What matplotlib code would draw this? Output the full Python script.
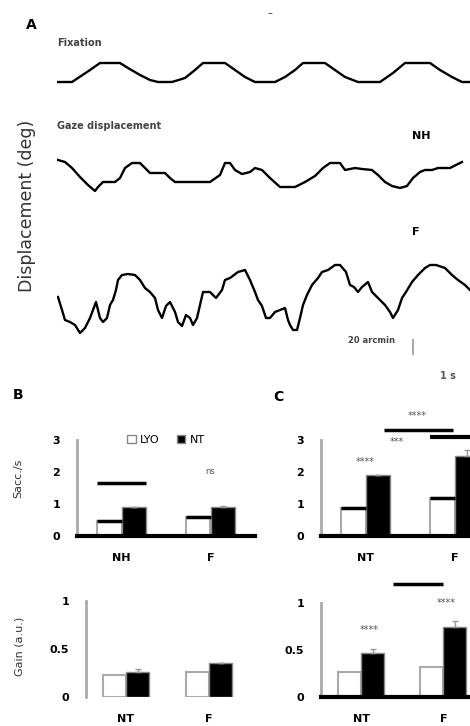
import matplotlib
matplotlib.use("Agg")
import matplotlib.pyplot as plt
from matplotlib.patches import Patch

# ---- data ----
# panel A traces: time (s) and displacement (deg)
t_fix = [0, 0.15, 0.33, 0.43, 0.53, 0.63, 0.71, 0.83, 0.93, 1.01, 1.15, 1.28, 1.38, 1.46, 1.56,
         1.68, 1.78, 1.88, 1.98, 2.18, 2.28, 2.38, 2.46, 2.56, 2.68, 2.78, 2.88, 3.01, 3.23,
         3.36, 3.48, 3.58, 3.73, 3.83, 3.95, 4.05, 4.13]
d_fix = [0, 0, 1.2, 1.9, 1.9, 1.9, 1.4, 0.7, 0.2, 0, 0, 0.4, 1.2, 1.9, 1.9,
         1.9, 1.2, 0.5, 0, 0, 0.5, 1.2, 1.9, 1.9, 1.9, 1.2, 0.5, 0, 0,
         0.9, 1.9, 1.9, 1.9, 1.2, 0.5, 0, 0]

t_nh = [0.01, 0.08, 0.15, 0.23, 0.31, 0.38, 0.41, 0.46, 0.58, 0.63, 0.68, 0.75, 0.83, 0.88,
        0.93, 1.08, 1.13, 1.18, 1.53, 1.63, 1.68, 1.73, 1.78, 1.85, 1.93, 1.98, 2.05, 2.13,
        2.23, 2.38, 2.48, 2.58, 2.66, 2.73, 2.83, 2.88, 2.98, 3.05, 3.15, 3.21, 3.28, 3.35,
        3.43, 3.50, 3.56, 3.63, 3.68, 3.75, 3.81, 3.93, 4.01, 4.05]
d_nh = [3.1, 2.9, 2.3, 1.4, 0.6, 0, 0.4, 0.9, 0.9, 1.3, 2.3, 2.8, 2.8, 2.3,
        1.8, 1.8, 1.3, 0.9, 0.9, 1.6, 2.8, 2.8, 2.1, 1.7, 1.9, 2.3, 2.1, 1.3,
        0.4, 0.4, 0.9, 1.5, 2.3, 2.8, 2.8, 2.1, 2.3, 2.2, 2.1, 1.6, 0.9, 0.5,
        0.3, 0.5, 1.3, 1.9, 2.1, 2.1, 2.3, 2.3, 2.7, 2.9]

t_f = [0.01, 0.05, 0.08, 0.13, 0.18, 0.23, 0.28, 0.33, 0.36, 0.39, 0.41, 0.43, 0.46, 0.50,
       0.53, 0.56, 0.59, 0.61, 0.65, 0.71, 0.78, 0.83, 0.88, 0.93, 0.98, 1.01, 1.05, 1.09,
       1.13, 1.18, 1.21, 1.25, 1.29, 1.33, 1.36, 1.40, 1.43, 1.46, 1.53, 1.59, 1.65, 1.68,
       1.73, 1.81, 1.88, 1.93, 1.98, 2.01, 2.05, 2.09, 2.13, 2.18, 2.28, 2.31, 2.33, 2.36,
       2.40, 2.43, 2.46, 2.50, 2.55, 2.61, 2.65, 2.71, 2.78, 2.83, 2.89, 2.93, 2.97, 3.01,
       3.05, 3.11, 3.15, 3.21, 3.28, 3.33, 3.36, 3.41, 3.45, 3.49, 3.55, 3.61, 3.68, 3.73,
       3.79, 3.88, 3.95, 4.01, 4.08, 4.13]
d_f = [3.6, 2.3, 1.3, 1.1, 0.8, 0, 0.5, 1.5, 2.3, 3.1, 2.3, 1.5, 1.1, 1.5,
       2.8, 3.3, 4.3, 5.3, 5.8, 5.9, 5.8, 5.3, 4.5, 4.1, 3.5, 2.3, 1.5, 2.7,
       3.1, 2.1, 1.1, 0.7, 1.8, 1.5, 0.8, 1.5, 2.8, 4.1, 4.1, 3.5, 4.3, 5.3,
       5.5, 6.1, 6.3, 5.3, 4.1, 3.3, 2.7, 1.5, 1.5, 2.1, 2.5, 1.3, 0.8, 0.3,
       0.3, 1.5, 2.8, 3.8, 4.8, 5.5, 6.1, 6.3, 6.8, 6.8, 6.1, 4.8, 4.6, 4.1,
       4.6, 5.1, 4.1, 3.5, 2.8, 2.1, 1.5, 2.3, 3.5, 4.1, 5.1, 5.8, 6.5, 6.8,
       6.8, 6.5, 5.8, 5.3, 4.8, 4.3]

# panel B (top): rate
b_groups = ["NH", "F"]
b_top_white = [0.47, 0.6]
b_top_black = [0.9, 0.9]
b_top_black_err = [0.0, 0.05]

# panel C (top)
c_groups = ["NT", "F"]
c_top_white = [0.87, 1.2]
c_top_black = [1.9, 2.5]
c_top_black_err = [0.0, 0.2]

# panel B (bottom): gain
b_bot_groups = ["NT", "F"]
b_bot_white = [0.23, 0.26]
b_bot_black = [0.26, 0.35]
b_bot_black_err = [0.03, 0.0]

# panel C (bottom)
c_bot_white = [0.27, 0.32]
c_bot_black = [0.47, 0.75]
c_bot_black_err = [0.04, 0.06]

W, H = 470, 726
fig = plt.figure(figsize=(W / 100, H / 100), dpi=100)
plt.rcParams["font.family"] = "DejaVu Sans"


def px_axes(left, top, right, bottom):
    return fig.add_axes([left / W, 1 - bottom / H, (right - left) / W, (bottom - top) / H])


def ftext(x, y, s, **kw):
    fig.text(x / W, 1 - y / H, s, **kw)


# ---- panel A ----
trace_boxes = [(58, 87, 1.9), (155, 196, 3.1), (260, 338, 6.8)]
for (top, bottom, dmax), (t, d) in zip(trace_boxes, [(t_fix, d_fix), (t_nh, d_nh), (t_f, d_f)]):
    ax = px_axes(57, top, 470, bottom)
    ax.plot(t, d, color="black", lw=1.7)
    ax.set_xlim(0, 4.13)
    ax.set_ylim(-0.5, dmax + 0.5)
    ax.axis("off")

ftext(31, 25, "A", fontsize=10, fontweight="bold", ha="center", va="center")
ftext(57, 43, "Fixation", fontsize=7, fontweight="bold", color="#444444", va="center")
ftext(57, 126, "Gaze displacement", fontsize=7, fontweight="bold", color="#444444", va="center")
ftext(412, 136, "NH", fontsize=8, fontweight="bold", va="center")
ftext(412, 232, "F", fontsize=8, fontweight="bold", va="center")
ftext(27, 206, "Displacement (deg)", fontsize=12.5, rotation=90, ha="center", va="center",
      color="#333333")
ftext(372, 340, "20 arcmin", fontsize=6, fontweight="bold", color="#444444",
      ha="center", va="center")
fig.add_artist(plt.Line2D([413 / W, 413 / W], [1 - 340 / H, 1 - 354 / H],
                          color="#aaaaaa", lw=1.5))
ftext(448, 376, "1 s", fontsize=7, fontweight="bold", color="#555555", ha="center", va="center")
ftext(270, 13, "–", fontsize=7, color="#333333", ha="center", va="center")

ftext(18, 395, "B", fontsize=10, fontweight="bold", ha="center", va="center")
ftext(278, 397, "C", fontsize=10, fontweight="bold", ha="center", va="center")
ftext(18, 478, "Sacc./s", fontsize=8, rotation=90, ha="center", va="center", color="#333333")
ftext(20, 646, "Gain (a.u.)", fontsize=8, rotation=90, ha="center", va="center",
      color="#333333")


def style(ax, baseline=True):
    for s in ["top", "right"]:
        ax.spines[s].set_visible(False)
    ax.spines["left"].set_color("#aaaaaa")
    ax.spines["left"].set_linewidth(2)
    if baseline:
        ax.spines["bottom"].set_color("black")
        ax.spines["bottom"].set_linewidth(3)
    else:
        ax.spines["bottom"].set_visible(False)
    ax.tick_params(length=0, labelsize=8, pad=12)
    for lab in ax.get_xticklabels() + ax.get_yticklabels():
        lab.set_fontweight("bold")
    ax.patch.set_alpha(0)


def bars(ax, white, black, black_err, labels, bw=0.28, top_line=False):
    x = list(range(len(white)))
    xw = [i - bw / 2 for i in x]
    xb = [i + bw / 2 for i in x]
    ax.bar(xw, white, bw, color="white", edgecolor="#aaaaaa", lw=1.5)
    ax.bar(xb, black, bw, color="black", edgecolor="#888888", lw=1)
    ax.errorbar(xb, black, yerr=[[0] * len(black), black_err], fmt="none",
                ecolor="#999999", capsize=2, lw=1)
    if top_line:
        ax.hlines(white, [v - bw / 2 for v in xw], [v + bw / 2 for v in xw],
                  color="black", lw=2.5)
    ax.set_xticks(x)
    ax.set_xticklabels(labels)


# B top
ax = px_axes(77, 440, 255, 536)
bars(ax, b_top_white, b_top_black, b_top_black_err, b_groups, top_line=True)
ax.set_xlim(-0.5, 1.5)
ax.set_ylim(0, 3)
ax.set_yticks([0, 1, 2, 3])
ax.hlines(1.65, -0.27, 0.28, color="black", lw=2.5)
ax.text(1.0, 2.0, "ns", fontsize=6, color="#555555", ha="center", va="center")
ax.legend(handles=[Patch(facecolor="white", edgecolor="#888888"),
                   Patch(facecolor="black", edgecolor="#888888")],
          labels=["LYO", "NT"], ncol=2, frameon=False, fontsize=8,
          loc="center", bbox_to_anchor=(0.5, 1.0), handlelength=0.8,
          handletextpad=0.4, columnspacing=1.5)
style(ax)

# C top
ax = px_axes(321, 440, 499, 536)
bars(ax, c_top_white, c_top_black, c_top_black_err, c_groups, top_line=True)
ax.set_xlim(-0.5, 1.5)
ax.set_ylim(0, 3)
ax.set_yticks([0, 1, 2, 3])
ax.text(0.0, 2.3, "****", fontsize=7, color="#555555", ha="center", va="center")
ax.text(0.35, 2.95, "***", fontsize=7, color="#555555", ha="center", va="center")
ax.hlines(3.3, 0.21, 0.98, color="black", lw=2.5, clip_on=False)
ax.hlines(3.1, 0.72, 1.2, color="black", lw=3, clip_on=False)
ax.text(0.58, 3.75, "****", fontsize=7, color="#555555", ha="center", va="center",
        clip_on=False)
style(ax)

# B bottom
ax = px_axes(86, 601, 259, 697)
bars(ax, b_bot_white, b_bot_black, b_bot_black_err, b_bot_groups)
ax.set_xlim(-0.48, 1.6)
ax.set_ylim(0, 1)
ax.set_yticks([0, 0.5, 1])
ax.set_yticklabels(["0", "0.5", "1"])
style(ax, baseline=False)

# C bottom
ax = px_axes(321, 603, 491, 697)
bars(ax, c_bot_white, c_bot_black, c_bot_black_err, c_groups)
ax.set_xlim(-0.49, 1.58)
ax.set_ylim(0, 1)
ax.set_yticks([0, 0.5, 1])
ax.set_yticklabels(["0", "0.5", "1"])
ax.text(0.1, 0.71, "****", fontsize=7, color="#555555", ha="center", va="center")
ax.text(1.03, 1.0, "****", fontsize=7, color="#555555", ha="center", va="center",
        clip_on=False)
ax.hlines(1.2, 0.39, 1.0, color="black", lw=2.5, clip_on=False)
style(ax)

fig.savefig("out.png", dpi=100)
